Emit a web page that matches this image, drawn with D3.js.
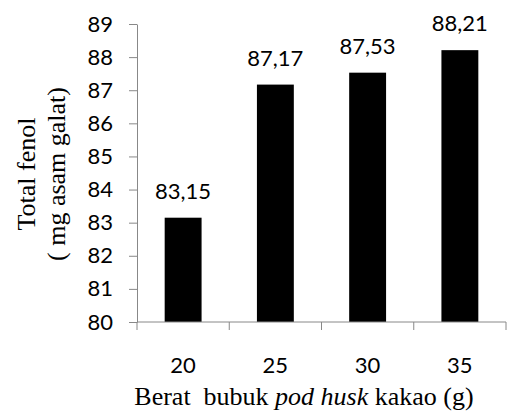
<!DOCTYPE html>
<html><head><meta charset="utf-8">
<script src="https://cdn.jsdelivr.net/npm/d3@7"></script>
<style>body{margin:0;background:#fff} .serif{font-family:"Liberation Serif","Times New Roman",serif}</style>
</head><body>
<svg id="c" width="507" height="412"></svg>
<script>
const categories = ["20","25","30","35"];
const values = [83.15, 87.17, 87.53, 88.21];
const valueLabels = ["83,15","87,17","87,53","88,21"];
const yTicks = [80,81,82,83,84,85,86,87,88,89];

const svg = d3.select("#c");
const m = {left:137, right:1, top:24, bottom:90};
const W = 507, H = 412;
const x = d3.scaleBand().domain(categories).range([m.left, W - m.right]).paddingInner(0.6).paddingOuter(0.3);
const y = d3.scaleLinear().domain([80,89]).range([H - m.bottom, m.top]);
const tickFont = "Lato, 'Open Sans', sans-serif";
const fs = 22;

// bars
svg.selectAll("rect.bar").data(values).join("rect")
  .attr("x",(d,i)=>x(categories[i])).attr("width",x.bandwidth())
  .attr("y",d=>y(d)).attr("height",d=>y(80)-y(d)).attr("fill","#000");

// value labels
svg.selectAll("text.v").data(values).join("text")
  .attr("x",(d,i)=>x(categories[i])+x.bandwidth()/2).attr("y",d=>y(d)-19)
  .attr("text-anchor","middle").attr("font-family",tickFont).attr("font-size",fs)
  .text((d,i)=>valueLabels[i]);

// y axis
const ya = svg.append("g").attr("transform",`translate(${m.left},0)`)
  .call(d3.axisLeft(y).tickValues(yTicks).tickSize(8).tickSizeOuter(0).tickPadding(16).tickFormat(d3.format("d")));
ya.select(".domain").attr("stroke","#888");
ya.selectAll(".tick line").attr("stroke","#888");
ya.selectAll("text").attr("font-family",tickFont).attr("font-size",fs).attr("fill","#000");

// x axis
const xs = d3.scaleLinear().domain([0,4]).range([m.left, W - m.right]);
const xa = svg.append("g").attr("transform",`translate(0,${y(80)})`);
xa.append("line").attr("x1",m.left).attr("x2",W-m.right).attr("stroke","#888");
xa.selectAll("line.t").data([0,1,2,3,4]).join("line").attr("class","t")
  .attr("x1",d=>xs(d)).attr("x2",d=>xs(d)).attr("y1",0).attr("y2",8).attr("stroke","#888");
xa.selectAll("text").data(categories).join("text")
  .attr("x",d=>x(d)+x.bandwidth()/2).attr("y",51)
  .attr("text-anchor","middle").attr("font-family",tickFont).attr("font-size",fs).text(d=>d);

// x title
const xt = svg.append("text").attr("class","serif").attr("x",304).attr("y",405).attr("text-anchor","middle")
  .attr("font-size",26);
xt.append("tspan").text("Berat\u00a0 bubuk ");
xt.append("tspan").attr("font-style","italic").text("pod husk");
xt.append("tspan").text(" kakao (g)");

// y title
const yt = svg.append("text").attr("class","serif").attr("transform","translate(0,174) rotate(-90)")
  .attr("text-anchor","middle").attr("font-size",26);
yt.append("tspan").attr("x",0).attr("y",35).text("Total fenol");
yt.append("tspan").attr("x",0).attr("y",65).text("( mg asam galat)");
</script>
</body></html>
